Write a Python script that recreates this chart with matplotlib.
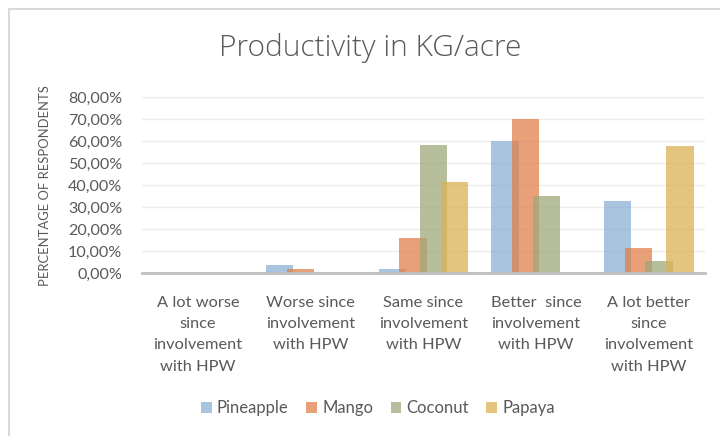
import matplotlib
matplotlib.use("Agg")
import matplotlib.pyplot as plt
import numpy as np
from matplotlib.patches import Rectangle

categories = [
    "A lot worse\nsince\ninvolvement\nwith HPW",
    "Worse since\ninvolvement\nwith HPW",
    "Same since\ninvolvement\nwith HPW",
    "Better  since\ninvolvement\nwith HPW",
    "A lot better\nsince\ninvolvement\nwith HPW",
]
series_names = ["Pineapple", "Mango", "Coconut", "Papaya"]
pineapple = [0.0, 4.0, 2.0, 60.0, 33.0]
mango = [0.0, 2.0, 16.0, 70.0, 11.5]
coconut = [0.0, 0.0, 58.5, 35.0, 5.8]
papaya = [0.0, 0.0, 41.5, 0.0, 58.0]
series_values = [pineapple, mango, coconut, papaya]
yticks = [0, 10, 20, 30, 40, 50, 60, 70, 80]
ytick_labels = ["0,00%", "10,00%", "20,00%", "30,00%", "40,00%", "50,00%", "60,00%", "70,00%", "80,00%"]

colors = ["#8bb0d3", "#e0804b", "#9fa87a", "#dab256"]
alpha = 0.75

plt.rcParams['font.family'] = ['Lato', 'DejaVu Sans']
text_color = "#595959"

fig = plt.figure(figsize=(7.2, 4.36), dpi=100)
# outer chart frame
fig.patches.append(Rectangle((9/720, -0.05), 1.2, 1 - 9/436 + 0.05, transform=fig.transFigure,
                             fill=False, edgecolor="#d9d9d9", linewidth=1.5))

ax = fig.add_axes([141.7/720, 1 - 273.3/436, (705 - 141.7)/720, (273.3 - 97.3)/436])

x = np.arange(len(categories))
bw = 0.244
step = 0.184
for i, (name, vals) in enumerate(zip(series_names, series_values)):
    offs = (i - 1.5) * step
    ax.bar(x + offs, vals, width=bw, color=colors[i], alpha=alpha, label=name, zorder=3, linewidth=0)

ax.set_xlim(-0.5, len(categories) - 0.5)
ax.set_ylim(0, 80)
ax.set_yticks(yticks)
ax.set_yticklabels(ytick_labels)
ax.set_xticks(x)
ax.set_xticklabels(categories, linespacing=1.68, fontsize=11.8)
ax.tick_params(axis='both', length=0, colors=text_color)
ax.tick_params(axis='y', pad=14, labelsize=11.6)
ax.tick_params(axis='x', pad=16)
ax.grid(axis='y', color="#ececec", linewidth=1, zorder=0)
for s in ["top", "right", "left"]:
    ax.spines[s].set_visible(False)
ax.spines["bottom"].set_color("#bfbfbf")
ax.spines["bottom"].set_linewidth(2)
ax.spines["bottom"].set_zorder(4)

fig.text(45/720, 1 - 186/436, "PERCENTAGE OF RESPONDENTS", rotation=90, ha="center", va="center",
         color=text_color, fontsize=9.4)
fig.text(370/720, 1 - 48/436, "Productivity in KG/acre", ha="center", va="center",
         color=text_color, fontsize=21.5, family=["Open Sans", "DejaVu Sans"], fontweight="light")

leg = fig.legend(loc="center", bbox_to_anchor=(378/720, 1 - 408/436), ncol=4, frameon=False,
                 handlelength=0.65, handleheight=0.65, handletextpad=0.3, columnspacing=1.05,
                 fontsize=12)
for t in leg.get_texts():
    t.set_color(text_color)

fig.savefig("out.png", dpi=100)
